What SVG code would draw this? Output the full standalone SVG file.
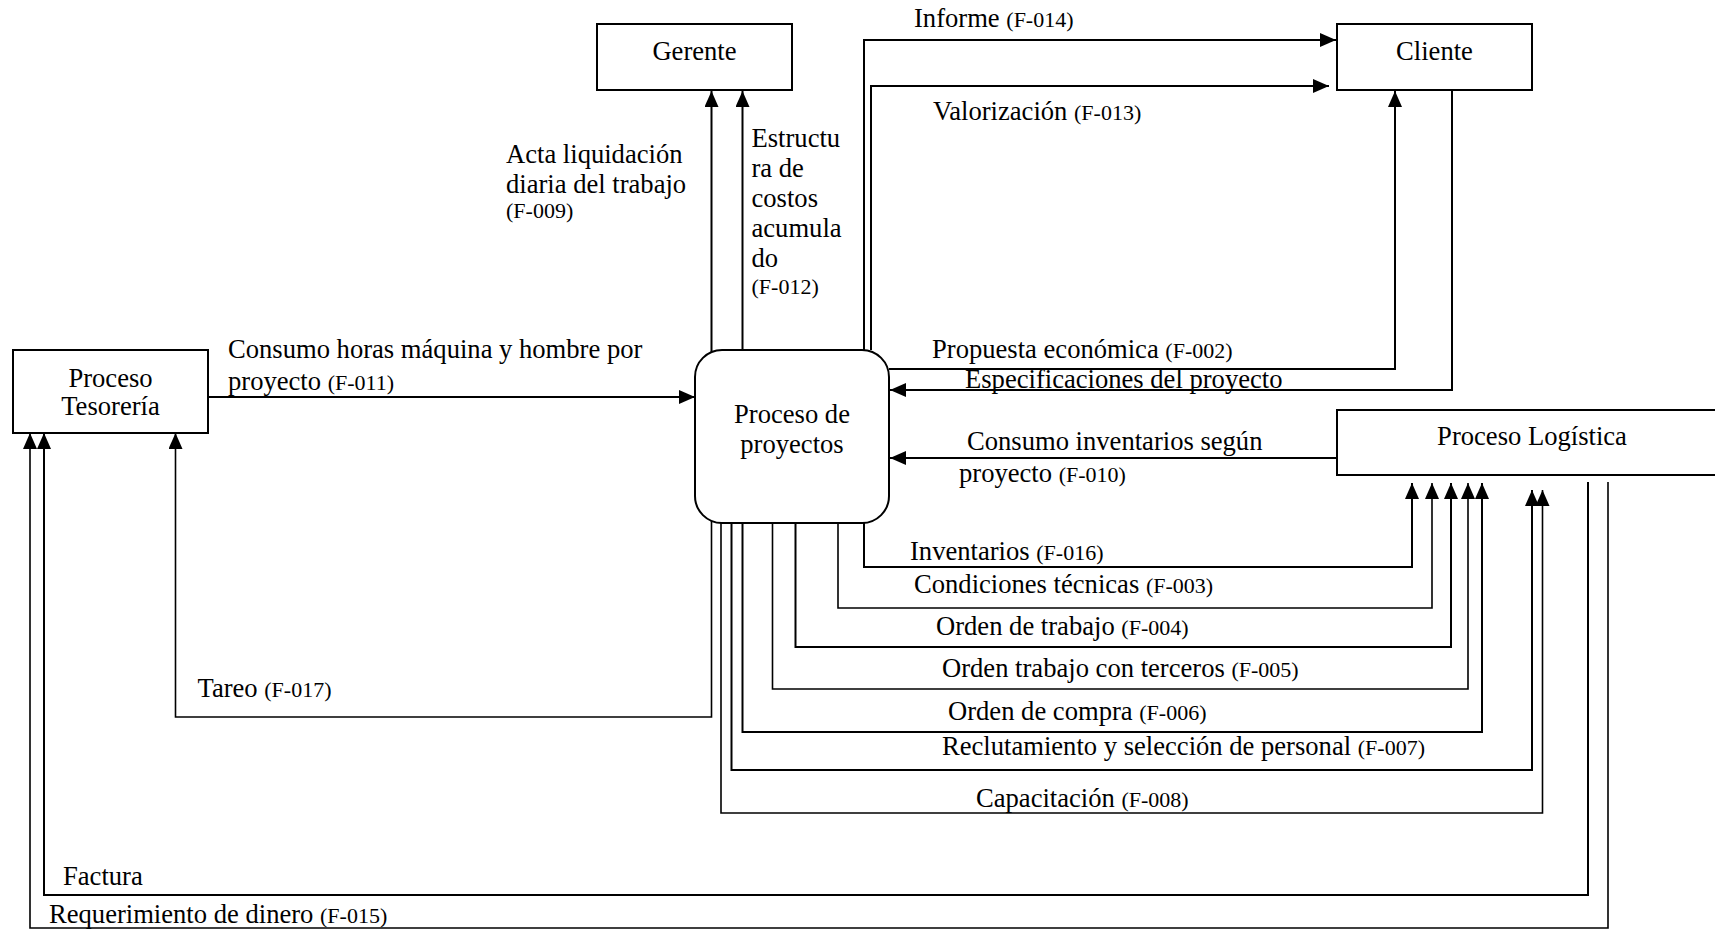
<svg xmlns="http://www.w3.org/2000/svg" width="1715" height="930" viewBox="0 0 1715 930">
  <style>
    .t { font-family: "Liberation Serif", "Times New Roman", serif; font-size: 26.6px; fill: #000; }
    .s { font-size: 22px; }
    .c { text-anchor: middle; }
    .box { fill: #fff; stroke: #000; stroke-width: 2; }
    .ln { fill: none; stroke: #000; stroke-width: 2; }
    .thin { stroke-width: 1.6; }
  </style>
  <defs>
    <marker id="ah" markerWidth="16" markerHeight="14" refX="16" refY="7" orient="auto" markerUnits="userSpaceOnUse">
      <path d="M0,0 L16,7 L0,14 z" fill="#000"/>
    </marker>
  </defs>
  <rect width="1715" height="930" fill="#fff"/>

  <!-- flows between the processes and entities -->
  <g id="connectors">
    <path class="ln" d="M711.5,352 V91" marker-end="url(#ah)"/>
    <path class="ln" d="M742.5,350 V91" marker-end="url(#ah)"/>
    <path class="ln" d="M864,350 V40 H1336" marker-end="url(#ah)"/>
    <path class="ln" d="M871,350 V86 H1329" marker-end="url(#ah)"/>
    <path class="ln" d="M889,369 H1395 V91" marker-end="url(#ah)"/>
    <path class="ln" d="M1452,90 V390 H890" marker-end="url(#ah)"/>
    <path class="ln" d="M208,397 H695" marker-end="url(#ah)"/>
    <path class="ln" d="M1337,458 H890" marker-end="url(#ah)"/>
    <path class="ln thin" d="M711.5,520 V717 H175.5 V433" marker-end="url(#ah)"/>
    <path class="ln" d="M864,523 V567 H1412 V483" marker-end="url(#ah)"/>
    <path class="ln thin" d="M838,523 V608 H1432 V483" marker-end="url(#ah)"/>
    <path class="ln" d="M795.5,523 V647 H1451 V483" marker-end="url(#ah)"/>
    <path class="ln thin" d="M772.5,523 V689 H1468 V483" marker-end="url(#ah)"/>
    <path class="ln" d="M742.5,523 V732 H1482 V483" marker-end="url(#ah)"/>
    <path class="ln" d="M731.5,523 V770 H1532 V490" marker-end="url(#ah)"/>
    <path class="ln thin" d="M721,522 V813 H1542.5 V490" marker-end="url(#ah)"/>
    <path class="ln" d="M1588,482 V895 H44 V433" marker-end="url(#ah)"/>
    <path class="ln thin" d="M1608,482 V928 H30 V433" marker-end="url(#ah)"/>
  </g>

  <!-- flow labels -->
  <g id="labels">
    <text class="t" x="506" y="163">Acta liquidación</text>
    <text class="t" x="506" y="193">diaria del trabajo</text>
    <text class="t s" x="506" y="218">(F-009)</text>
    <text class="t" x="751.5" y="147">Estructu</text>
    <text class="t" x="751.5" y="177">ra de</text>
    <text class="t" x="751.5" y="207">costos</text>
    <text class="t" x="751.5" y="237">acumula</text>
    <text class="t" x="751.5" y="267">do</text>
    <text class="t s" x="751.5" y="294">(F-012)</text>
    <text class="t" x="914" y="27">Informe <tspan class="s">(F-014)</tspan></text>
    <text class="t" x="933" y="120">Valorización <tspan class="s">(F-013)</tspan></text>
    <text class="t" x="932" y="358">Propuesta económica <tspan class="s">(F-002)</tspan></text>
    <text class="t" x="965" y="388">Especificaciones del proyecto</text>
    <text class="t" x="967" y="450">Consumo inventarios según</text>
    <text class="t" x="959" y="482">proyecto <tspan class="s">(F-010)</tspan></text>
    <text class="t" x="228" y="358">Consumo horas máquina y hombre por</text>
    <text class="t" x="228" y="390">proyecto <tspan class="s">(F-011)</tspan></text>
    <text class="t" x="910" y="560">Inventarios <tspan class="s">(F-016)</tspan></text>
    <text class="t" x="914" y="593">Condiciones técnicas <tspan class="s">(F-003)</tspan></text>
    <text class="t" x="936" y="635">Orden de trabajo <tspan class="s">(F-004)</tspan></text>
    <text class="t" x="942" y="677">Orden trabajo con terceros <tspan class="s">(F-005)</tspan></text>
    <text class="t" x="948" y="720">Orden de compra <tspan class="s">(F-006)</tspan></text>
    <text class="t" x="942" y="755">Reclutamiento y selección de personal <tspan class="s">(F-007)</tspan></text>
    <text class="t" x="976" y="807">Capacitación <tspan class="s">(F-008)</tspan></text>
    <text class="t" x="197.5" y="697">Tareo <tspan class="s">(F-017)</tspan></text>
    <text class="t" x="63" y="885">Factura</text>
    <text class="t" x="49" y="923">Requerimiento de dinero <tspan class="s">(F-015)</tspan></text>
  </g>

  <g id="gerente">
    <rect class="box" x="597" y="24" width="195" height="66"/>
    <text class="t c" x="694.5" y="60">Gerente</text>
  </g>

  <g id="cliente">
    <rect class="box" x="1337" y="24" width="195" height="66"/>
    <text class="t c" x="1434.5" y="60">Cliente</text>
  </g>

  <g id="proceso-tesoreria">
    <rect class="box" x="13" y="350" width="195" height="83"/>
    <text class="t c" x="110.5" y="387">Proceso</text>
    <text class="t c" x="110.5" y="415">Tesorería</text>
  </g>

  <g id="proceso-proyectos">
    <rect class="box" x="695" y="350" width="194" height="173" rx="27" ry="27"/>
    <text class="t c" x="792" y="423">Proceso de</text>
    <text class="t c" x="792" y="453">proyectos</text>
  </g>

  <g id="proceso-logistica">
    <rect class="box" x="1337" y="410" width="400" height="65"/>
    <text class="t c" x="1532" y="445">Proceso Logística</text>
  </g>
</svg>
